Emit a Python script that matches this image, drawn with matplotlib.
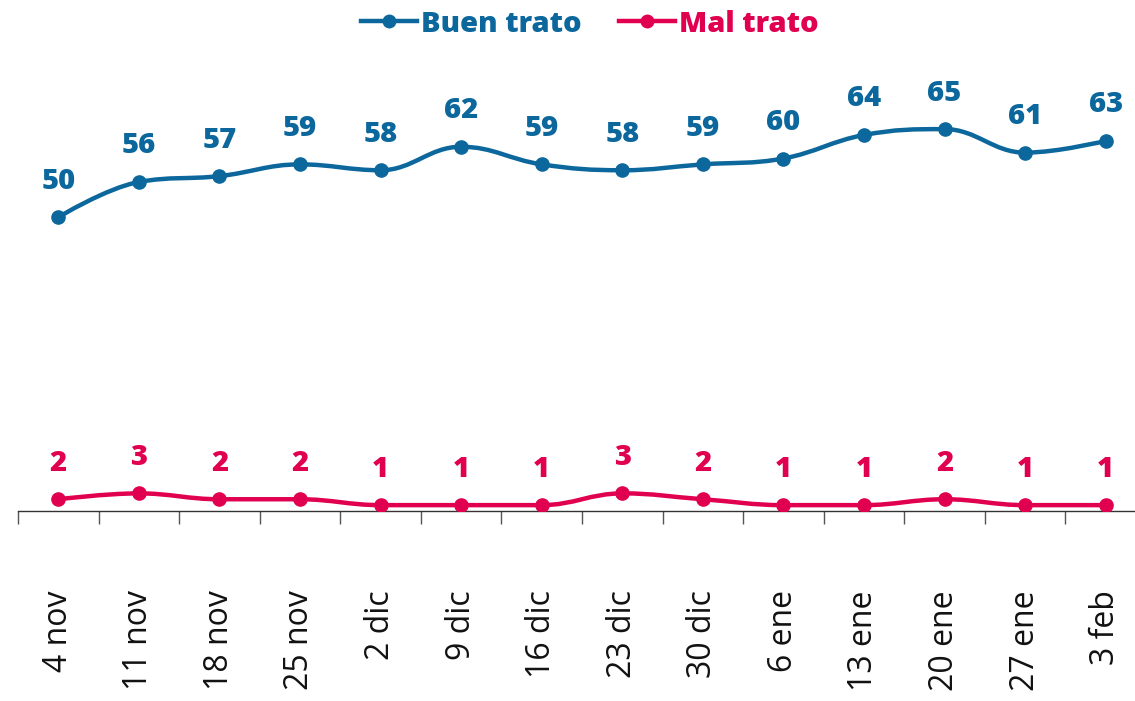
import matplotlib
matplotlib.use("Agg")
import matplotlib.pyplot as plt
from matplotlib.path import Path
from matplotlib.patches import PathPatch
from matplotlib.lines import Line2D

# data
weeks = ["4 nov", "11 nov", "18 nov", "25 nov", "2 dic", "9 dic", "16 dic",
         "23 dic", "30 dic", "6 ene", "13 ene", "20 ene", "27 ene", "3 feb"]
buen = [50, 56, 57, 59, 58, 62, 59, 58, 59, 60, 64, 65, 61, 63]
mal = [2, 3, 2, 2, 1, 1, 1, 3, 2, 1, 1, 2, 1, 1]

blue = "#0b679c"
red = "#e1004f"


# spline like highcharts (smoothing 1.5)
def spline_path(xs, ys):
    n = len(xs)
    left = [(xs[i], ys[i]) for i in range(n)]
    right = [(xs[i], ys[i]) for i in range(n)]
    for i in range(1, n - 1):
        x, y = xs[i], ys[i]
        lx, ly = xs[i - 1], ys[i - 1]
        nx, ny = xs[i + 1], ys[i + 1]
        lcx = (1.5 * x + lx) / 2.5
        lcy = (1.5 * y + ly) / 2.5
        rcx = (1.5 * x + nx) / 2.5
        rcy = (1.5 * y + ny) / 2.5
        corr = 0
        if rcx != lcx:
            corr = (rcy - lcy) * (rcx - x) / (rcx - lcx) + y - rcy
        lcy += corr
        rcy += corr
        if lcy > ly and lcy > y:
            lcy = max(ly, y)
            rcy = 2 * y - lcy
        elif lcy < ly and lcy < y:
            lcy = min(ly, y)
            rcy = 2 * y - lcy
        if rcy > ny and rcy > y:
            rcy = max(ny, y)
            lcy = 2 * y - rcy
        elif rcy < ny and rcy < y:
            rcy = min(ny, y)
            lcy = 2 * y - rcy
        left[i] = (lcx, lcy)
        right[i] = (rcx, rcy)
    verts = [(xs[0], ys[0])]
    codes = [Path.MOVETO]
    for i in range(1, n):
        verts += [right[i - 1], left[i], (xs[i], ys[i])]
        codes += [Path.CURVE4] * 3
    return Path(verts, codes)


fig = plt.figure(figsize=(11.35, 7.01), dpi=100)
ax = fig.add_axes([18 / 1135, 190 / 701, 1128 / 1135, 470 / 701])

x = list(range(len(weeks)))
for vals, col in [(buen, blue), (mal, red)]:
    ax.add_patch(PathPatch(spline_path(x, vals), facecolor="none", edgecolor=col,
                           lw=3.2, capstyle="round", joinstyle="round", zorder=3))
    ax.plot(x, vals, "o", color=col, ms=9.5, zorder=4)
    for xi, v in zip(x, vals):
        ax.annotate(str(v), (xi, v), xytext=(0, 26), textcoords="offset points",
                    ha="center", va="center", fontsize=21, fontweight="heavy",
                    color=col, family="Open Sans")

ax.set_xlim(-0.5, 13.5)
ax.set_ylim(0, 80)
for s in ["top", "right", "left"]:
    ax.spines[s].set_visible(False)
ax.spines["bottom"].set_color("#333333")
ax.spines["bottom"].set_linewidth(1)
ax.set_yticks([])

ax.set_xticks([i - 0.5 for i in range(len(weeks) + 1)])
ax.set_xticklabels([])
ax.tick_params(axis="x", which="major", length=9, color="#555555", width=1)
ax.set_xticks(x, minor=True)
ax.set_xticklabels(weeks, minor=True, rotation=90, fontsize=23, family="Open Sans",
                   color="#111111")
ax.tick_params(axis="x", which="minor", length=0, pad=57)

handles = [Line2D([], [], color=blue, lw=3.2, marker="o", ms=9),
           Line2D([], [], color=red, lw=3.2, marker="o", ms=9)]
leg = fig.legend(handles, ["Buen trato", "Mal trato"], loc="center",
                 bbox_to_anchor=(590 / 1135, 1 - 24 / 701), ncol=2, frameon=False,
                 handlelength=1.9, handletextpad=0.15, columnspacing=1.3,
                 prop={"family": "Open Sans", "weight": "heavy", "size": 21})
for t, c in zip(leg.get_texts(), [blue, red]):
    t.set_color(c)

fig.savefig("out.png", dpi=100)
